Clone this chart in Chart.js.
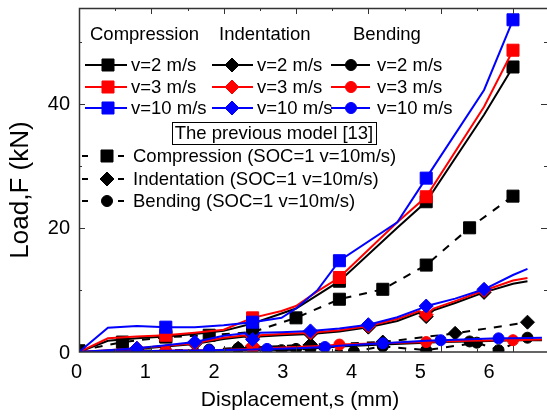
<!DOCTYPE html>
<html>
<head>
<meta charset="utf-8">
<script src="https://cdn.jsdelivr.net/npm/chart.js@4.4.0/dist/chart.umd.min.js"></script>
<style>
  html, body { margin: 0; padding: 0; background: #fff; }
</style>
</head>
<body>
<canvas id="myChart" width="547" height="417"></canvas>
<script>
// compression (squares)
const compX = [0, 0.4, 0.8, 1.2, 1.6, 2.0, 2.4, 2.8, 3.0, 3.3, 3.6, 4.4, 4.8, 5.6, 6.0];
const compV2 = [0, 1.8, 2.2, 2.5, 2.9, 3.4, 4.6, 6.2, 7.0, 9.2, 11.4, 20.0, 24.2, 38.2, 45.9];
const compV3 = [0, 2.2, 2.5, 2.7, 3.1, 3.6, 5.5, 6.6, 7.4, 9.8, 12.0, 20.9, 25.0, 39.5, 48.6];
const compV10 = [0, 3.9, 4.2, 4.0, 4.0, 4.3, 4.8, 5.5, 7.0, 10.0, 14.7, 20.9, 28.0, 42.2, 53.5];
const compMarks = [1.2, 2.4, 3.6, 4.8, 6.0];

// indentation (diamonds)
const indX = [0, 0.4, 0.8, 1.2, 1.6, 2.0, 2.3, 2.4, 2.5, 2.8, 3.2, 3.6, 4.0, 4.4, 4.7, 4.8, 4.9, 5.2, 5.6, 6.0, 6.2];
const indV2 = [0, 0.2, 0.5, 0.9, 1.3, 2.1, 2.5, 0.9, 2.5, 2.7, 2.9, 3.3, 4.0, 5.0, 6.3, 5.7, 6.7, 7.9, 9.6, 11.0, 11.4];
const indV3 = [0, 0.3, 0.6, 1.0, 1.4, 2.3, 2.7, 1.0, 2.7, 2.9, 3.1, 3.5, 4.2, 5.3, 6.6, 6.0, 7.0, 8.2, 9.9, 11.5, 11.9];
const indV10 = [0, 0.3, 0.6, 1.1, 1.6, 2.6, 3.0, 2.0, 3.1, 3.2, 3.4, 3.8, 4.4, 5.6, 6.9, 7.4, 7.7, 8.6, 10.1, 12.4, 13.4];
const indMarks = [0.8, 1.6, 2.4, 3.2, 4.0, 4.8, 5.6];

// bending (circles)
const bendX = [0, 0.6, 1.2, 1.8, 2.4, 2.6, 3.0, 3.4, 3.6, 4.2, 4.8, 5.0, 5.4, 5.8, 6.0, 6.4];
const bendV2 = [0, 0.1, 0.1, 0.2, 0.3, 0.4, 0.5, 0.7, 0.9, 1.2, 1.5, 1.6, 1.7, 1.8, 1.9, 1.9];
const bendV3 = [0, 0.1, 0.2, 0.3, 0.5, 0.6, 0.8, 1.0, 1.2, 1.4, 1.6, 1.7, 1.8, 1.9, 1.9, 2.0];
const bendV10 = [0, 0.1, 0.2, 0.3, 0.4, 0.5, 0.6, 0.8, 1.0, 1.4, 1.8, 1.9, 2.05, 2.2, 2.2, 2.3];
const bendMarksV2 = [0.6, 1.8, 3.0, 4.2, 5.4];
const bendMarksV3 = [1.2, 2.4, 3.6, 4.8, 6.0];
const bendMarksV10 = [1.8, 2.6, 3.4, 4.2, 5.0, 5.8];

// previous model [13], SOC=1 v=10m/s
const prevCompX = [0, 0.6, 1.2, 1.8, 2.4, 3.0, 3.6, 4.2, 4.8, 5.4, 6.0];
const prevComp = [0.2, 1.6, 2.4, 2.7, 3.2, 5.5, 8.5, 10.1, 14.0, 20.0, 25.1];
const prevIndX = [0, 1.2, 2.2, 3.2, 4.2, 5.2, 6.2];
const prevInd = [0, 0.2, 0.6, 1.2, 1.6, 3.0, 4.8];
const prevBendX = [0, 0.6, 1.2, 1.8, 2.2, 2.8, 3.2, 3.8, 4.2, 4.8, 5.5, 5.8, 6.2];
const prevBend = [0, 0.3, 0.2, 0.4, 0.6, 0.3, 0.5, 0.1, 0.9, 0.3, 1.5, 0.3, 2.3];

const speedLabels = ['v=2 m/s', 'v=3 m/s', 'v=10 m/s'];
const groupTitles = ['Compression', 'Indentation', 'Bending'];
const prevLabels = ['Compression (SOC=1 v=10m/s)', 'Indentation (SOC=1 v=10m/s)', 'Bending (SOC=1 v=10m/s)'];
const prevTitle = 'The previous model [13]';
const xTickLabels = ['0', '1', '2', '3', '4', '5', '6'];
const yTickLabels = ['0', '20', '40'];

const FONT = '"Liberation Sans", Arial, sans-serif';
const colors = ['#000000', '#ff0000', '#0000ff'];
const radius = { rect: 8.5, rectRot: 7, circle: 5.5 };

const series = (xs, ys, marks, color, style, dashed, order) => ({
  data: xs.map((x, i) => ({ x: x, y: ys[i] })),
  borderColor: color,
  backgroundColor: color,
  borderWidth: 2,
  borderDash: dashed ? [8, 8] : [],
  pointStyle: style,
  pointRadius: ctx => (marks === null || marks.includes(ctx.raw.x)) ? radius[style] : 0,
  pointBorderWidth: 1,
  pointBackgroundColor: color,
  pointBorderColor: color,
  tension: 0,
  order: order
});

const datasets = [
  series(compX, compV10, compMarks, colors[2], 'rect', false, 1),
  series(compX, compV3, compMarks, colors[1], 'rect', false, 2),
  series(compX, compV2, compMarks, colors[0], 'rect', false, 3),
  series(indX, indV10, indMarks, colors[2], 'rectRot', false, 1),
  series(indX, indV3, indMarks, colors[1], 'rectRot', false, 2),
  series(indX, indV2, indMarks, colors[0], 'rectRot', false, 3),
  series(bendX, bendV10, bendMarksV10, colors[2], 'circle', false, 1),
  series(bendX, bendV3, bendMarksV3, colors[1], 'circle', false, 2),
  series(bendX, bendV2, bendMarksV2, colors[0], 'circle', false, 3),
  series(prevCompX, prevComp, null, colors[0], 'rect', true, 4),
  series(prevIndX, prevInd, prevIndX.slice(2), colors[0], 'rectRot', true, 4),
  series(prevBendX, prevBend, prevBendX.slice(1), colors[0], 'circle', true, 4)
];

const drawMark = (ctx, style, x, y, color) => {
  ctx.fillStyle = color;
  ctx.strokeStyle = color;
  ctx.lineWidth = 1;
  Chart.helpers.drawPoint(ctx, { pointStyle: style, radius: radius[style], rotation: 0, borderWidth: 1 }, x, y);
};

const hline = (ctx, x1, x2, y, color) => {
  ctx.strokeStyle = color;
  ctx.lineWidth = 2;
  ctx.beginPath();
  ctx.moveTo(x1, y);
  ctx.lineTo(x2, y);
  ctx.stroke();
};

// frame, inward ticks, labels, titles and the legend block
const decorations = {
  id: 'decorations',
  afterDatasetsDraw(chart) {
    const ctx = chart.ctx;
    const area = chart.chartArea;
    const xs = chart.scales.x, ys = chart.scales.y, xl = chart.scales.xLabel;
    ctx.save();

    ctx.strokeStyle = '#333';
    ctx.lineWidth = 1.5;
    ctx.beginPath();
    ctx.moveTo(area.right, area.top + 0.5);
    ctx.lineTo(area.left + 0.5, area.top + 0.5);
    ctx.lineTo(area.left + 0.5, area.bottom);
    ctx.lineTo(area.right, area.bottom);
    ctx.stroke();

    ctx.lineWidth = 1;
    ctx.beginPath();
    for (let v = 0.5; v < xs.max; v += 0.5) {
      const px = Math.round(xs.getPixelForValue(v)) + 0.5;
      const len = Number.isInteger(v) ? 6 : 3;
      ctx.moveTo(px, area.bottom); ctx.lineTo(px, area.bottom - len);
      ctx.moveTo(px, area.top); ctx.lineTo(px, area.top + len);
    }
    for (let v = 10; v < ys.max; v += 10) {
      const py = Math.round(ys.getPixelForValue(v)) + 0.5;
      const len = v % 20 === 0 ? 6 : 3;
      ctx.moveTo(area.left, py); ctx.lineTo(area.left + len, py);
      ctx.moveTo(area.right, py); ctx.lineTo(area.right - len, py);
    }
    ctx.stroke();

    ctx.fillStyle = '#000';
    ctx.font = '20px ' + FONT;
    ctx.textAlign = 'right';
    ctx.textBaseline = 'middle';
    yTickLabels.forEach(t => ctx.fillText(t, area.left - 9, ys.getPixelForValue(Number(t)) + 1));
    ctx.textAlign = 'center';
    xTickLabels.forEach(t => ctx.fillText(t, xl.getPixelForValue(Number(t)), area.bottom + 20));

    ctx.font = '21px ' + FONT;
    ctx.fillText('Displacement,s (mm)', 300, 400);
    ctx.save();
    ctx.font = '26px ' + FONT;
    ctx.translate(21, 190);
    ctx.rotate(-Math.PI / 2);
    ctx.fillText('Load,F (kN)', 0, 0);
    ctx.restore();

    // legend: three columns of speeds
    ctx.font = '18.5px ' + FONT;
    ctx.textAlign = 'left';
    const heads = [90, 219, 353];
    groupTitles.forEach((t, i) => ctx.fillText(t, heads[i], 35));
    const cols = [
      { a: 85, b: 127, m: 108, t: 131, style: 'rect' },
      { a: 212, b: 253, m: 232, t: 257, style: 'rectRot' },
      { a: 331, b: 370, m: 351, t: 377, style: 'circle' }
    ];
    const rows = [65, 87, 108];
    cols.forEach(c => {
      rows.forEach((y, r) => {
        hline(ctx, c.a, c.b, y, colors[r]);
        drawMark(ctx, c.style, c.m, y, colors[r]);
        ctx.fillStyle = '#000';
        ctx.fillText(speedLabels[r], c.t, y + 1);
      });
    });

    ctx.strokeStyle = '#000';
    ctx.lineWidth = 1;
    ctx.strokeRect(172.5, 122.5, 204, 22);
    ctx.textAlign = 'center';
    ctx.fillText(prevTitle, 274, 134);

    // legend: previous model, dashed
    ctx.textAlign = 'left';
    const prevStyles = ['rect', 'rectRot', 'circle'];
    [156, 179, 201].forEach((y, i) => {
      hline(ctx, 82, 88, y, '#000');
      hline(ctx, 118, 124, y, '#000');
      drawMark(ctx, prevStyles[i], 107, y, '#000');
      ctx.fillStyle = '#000';
      ctx.fillText(prevLabels[i], 133, y + 1);
    });

    ctx.restore();
  }
};

new Chart(document.getElementById('myChart').getContext('2d'), {
  type: 'line',
  data: { datasets: datasets },
  options: {
    responsive: false,
    animation: false,
    devicePixelRatio: 1,
    layout: { autoPadding: false, padding: { left: 79, top: 8, right: 0, bottom: 65 } },
    plugins: { legend: { display: false }, tooltip: { enabled: false } },
    scales: {
      x: { type: 'linear', min: 0, max: 6.47, display: false },
      // tick labels sit on their own, slightly narrower scale
      xLabel: { type: 'linear', axis: 'x', min: 0.036, max: 6.843, display: false },
      y: { type: 'linear', min: 0, max: 55.4, display: false }
    }
  },
  plugins: [decorations]
});
</script>
</body>
</html>
